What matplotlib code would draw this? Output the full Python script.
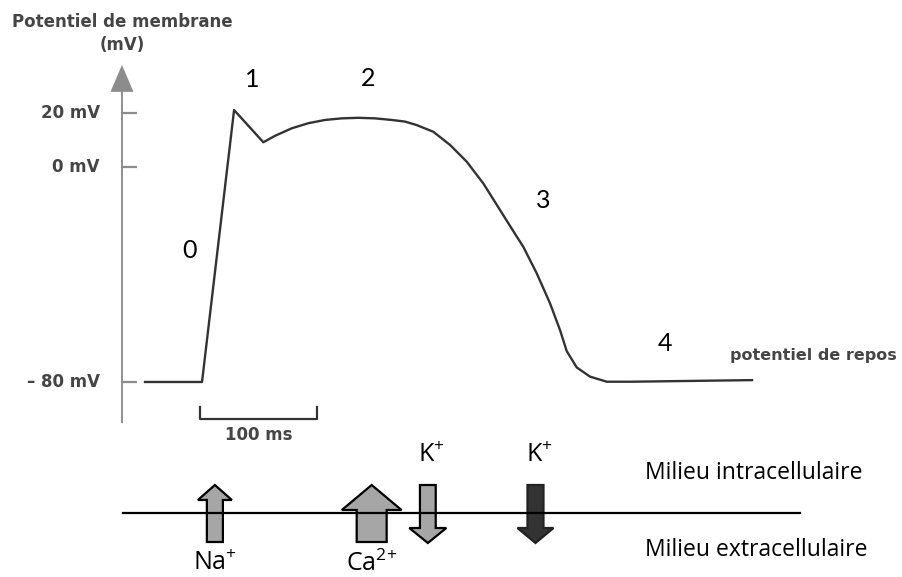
import matplotlib.pyplot as plt
from matplotlib.patches import FancyArrow

plt.rcParams["mathtext.fontset"] = "custom"
plt.rcParams["mathtext.rm"] = "Open Sans"
plt.rcParams["mathtext.it"] = "Open Sans"

# action potential (time in ms, potential in mV)
t_ms = [-48.7, 0, 27.4, 52.4, 62.4, 76.7, 90.9, 105.1, 119.4, 133.6, 147.9,
        162.1, 173.5, 183.5, 197.7, 212.0, 226.2, 240.4, 254.7, 269.0, 274.6,
        286.1, 297.4, 306.0, 311.7, 320.3, 331.6, 345.9, 365.8, 470.1]
v_mv = [-80, -80, 21.2, 9.2, 11.6, 14.4, 16.3, 17.5, 18.1, 18.3, 18.1,
        17.5, 16.9, 15.6, 13.1, 8.2, 2.0, -6.1, -16.0, -25.9, -29.7,
        -39.6, -50.7, -60.7, -68.5, -74.6, -78.0, -79.9, -79.9, -79.3]

tick_vals = [20, 0, -80]
tick_labels = ["20 mV", "0 mV", "\u2013 80 mV"]

phase_labels = ["0", "1", "2", "3", "4"]
phase_t = [-11, 42.7, 141.9, 291.5, 395.7]
phase_v = [-30.9, 32.4, 33.1, -12.3, -65.5]

# ion currents: name, time of flow (ms), direction (+1 = inward / up)
ion_names = ["Na$^{+}$", "Ca$^{2}$$^{+}$", "K$^{+}$", "K$^{+}$"]
ion_t = [11, 145, 193, 285]
ion_dir = [1, 1, -1, -1]

W, H = 903, 577
fig = plt.figure(figsize=(W / 100, H / 100), dpi=100)

ax = fig.add_axes([0, 0, 1, 1])
ax.set_xlim(-172.65, 599.1)
ax.set_ylim(-152.56, 62.14)
ax.axis("off")

lab_font = dict(family="DejaVu Sans", color="#454545", fontweight="bold")
num_font = dict(family="Lato", color="black")
txt_font = dict(family="Open Sans", color="black")

# y axis with arrow head
ax.add_patch(FancyArrow(-68.4, -95.3, 0, 133.25, width=1.6, head_width=19.7,
                        head_length=10, length_includes_head=True,
                        color="#8c8c8c", lw=0))
ax.hlines(tick_vals, -68.4, -55.6, color="#8c8c8c", lw=1.6)
for v, lab in zip(tick_vals, tick_labels):
    ax.text(-87.2, v, lab, ha="right", va="center", fontsize=12, **lab_font)

ax.text(-68.4, 54.0, "Potentiel de membrane", ha="center", va="center",
        fontsize=12, **lab_font)
ax.text(-68.4, 45.4, "(mV)", ha="center", va="center", fontsize=12, **lab_font)

# curve
ax.plot(t_ms, v_mv, color="#333333", lw=1.7, solid_joinstyle="round")

for lab, t, v in zip(phase_labels, phase_t, phase_v):
    ax.text(t, v, lab, ha="center", va="center", fontsize=18, **num_font)

ax.text(451.3, -70, "potentiel de repos", ha="left", va="center",
        fontsize=11.5, **lab_font)

# 100 ms scale bar
ax.plot([-1.7, -1.7, 98.3, 98.3], [-89.3, -93.8, -93.8, -89.3],
        color="#333333", lw=1.6)
ax.text(48.3, -99.9, "100 ms", ha="center", va="center", fontsize=12,
        **lab_font)

# membrane schematic (x shared in ms, y in pixels from the membrane)
ax2 = fig.add_axes([0, 0, 1, 137 / H], sharex=ax)
ax2.set_ylim(-64, 73)
ax2.axis("off")

ax2.plot([-67.5, 511], [0, 0], color="black", lw=1.6)

shaft_w = [13.7, 25.6, 13.5, 13.7]
head_w = [29, 51, 31.6, 30.8]
head_l = [15, 25, 15, 15]
fills = ["#a6a6a6", "#a6a6a6", "#a6a6a6", "#333333"]
edges = ["black", "black", "black", "#222222"]

for name, t, d, sw, hw, hl, fc, ec in zip(ion_names, ion_t, ion_dir, shaft_w,
                                           head_w, head_l, fills, edges):
    if d > 0:
        y0, y1, ly = -29, 28, -51
    else:
        y0, y1, ly = 28, -30, 58
    ax2.add_patch(FancyArrow(t, y0, 0, y1 - y0, width=sw, head_width=hw,
                             head_length=hl, length_includes_head=True,
                             facecolor=fc, edgecolor=ec, lw=1.6))
    ax2.text(t + (3 if d < 0 else 0), ly, name, ha="center", va="center",
             fontsize=18, **txt_font)

ax2.text(378.6, 40, "Milieu intracellulaire", ha="left", va="center",
         fontsize=16.5, **txt_font)
ax2.text(378.6, -37, "Milieu extracellulaire", ha="left", va="center",
         fontsize=16.5, **txt_font)

fig.savefig("out.png", dpi=100)
